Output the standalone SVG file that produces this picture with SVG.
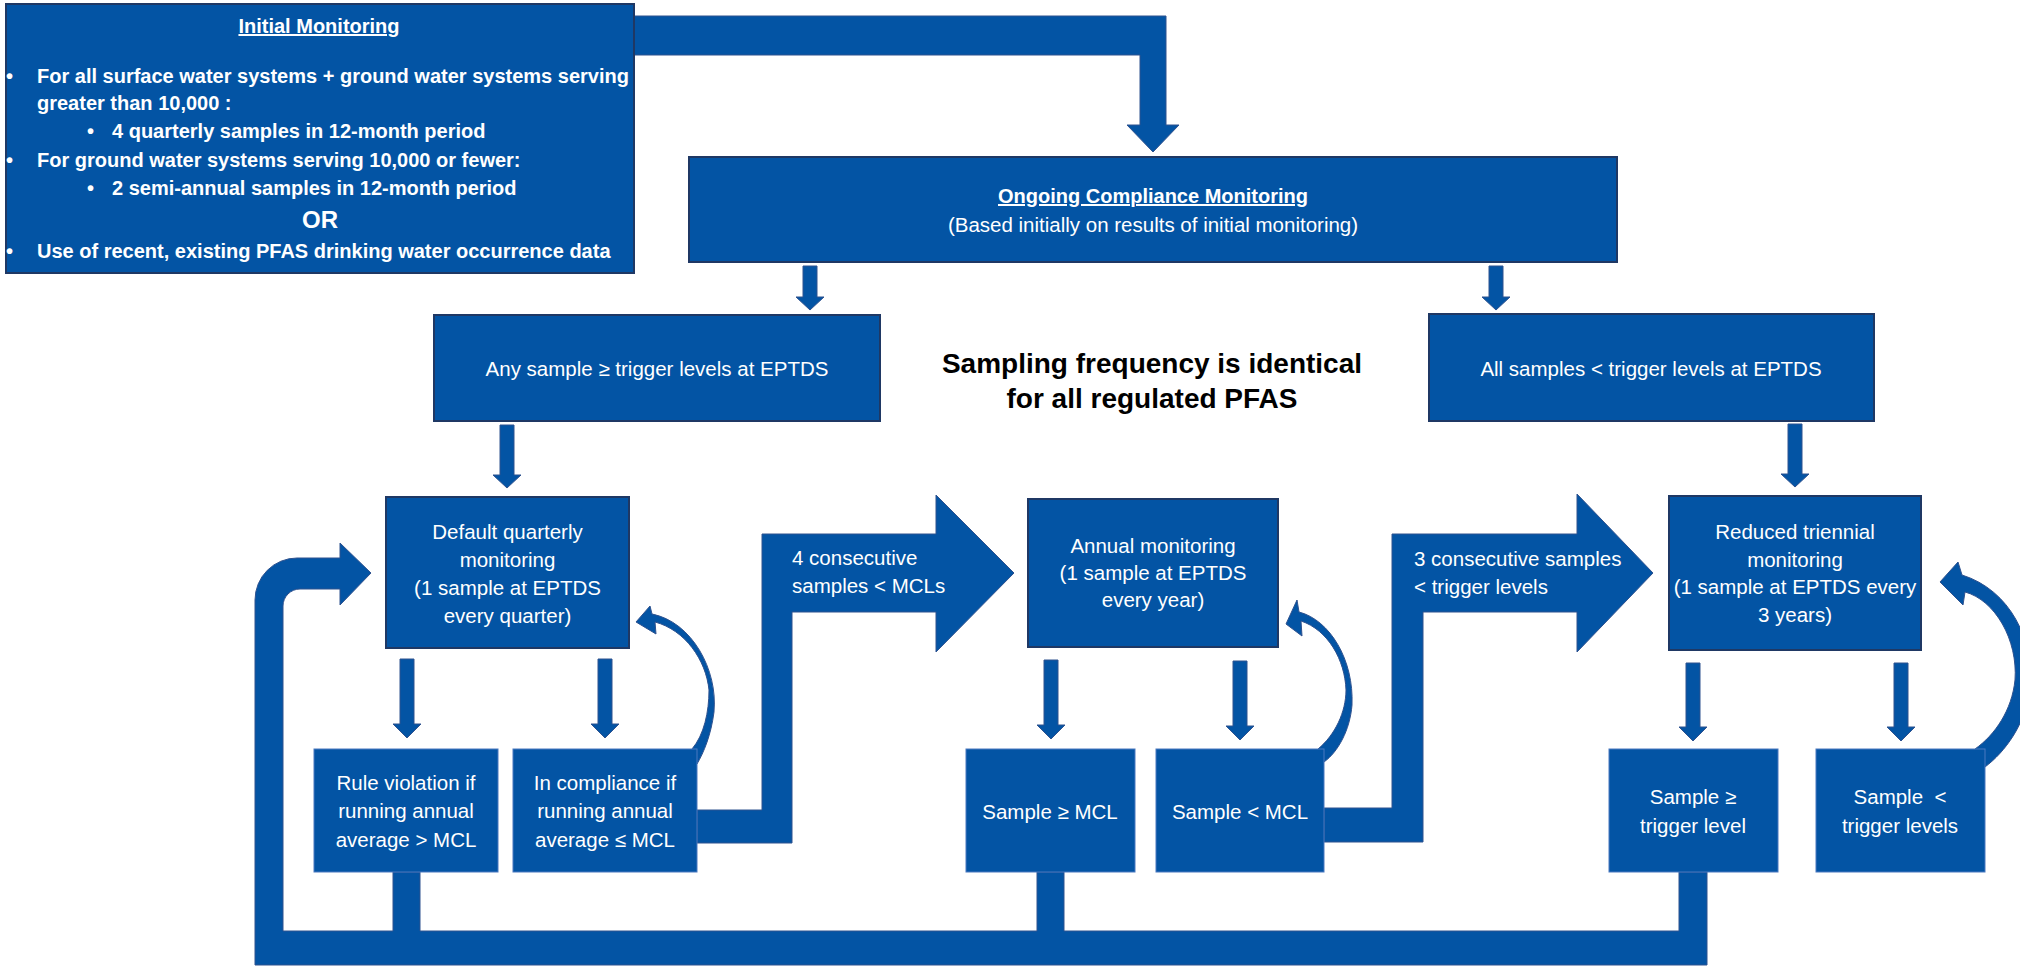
<svg xmlns="http://www.w3.org/2000/svg" width="2020" height="968" viewBox="0 0 2020 968">
<style>
  .box{fill:#0354A4;stroke:#1F3864;stroke-width:2}
  .sbox{fill:#0354A4;stroke:#4A78C0;stroke-width:1}
  .conn{fill:#0354A4;stroke:#2F528F;stroke-width:1}
  .t{font-family:'Liberation Sans',Arial,sans-serif;fill:#fff;font-size:20.5px}
  .c{text-anchor:middle}
  .b{font-weight:bold;font-size:20px}
  .u{text-decoration:underline}
  .title{font-family:'Liberation Sans',Arial,sans-serif;fill:#000;font-weight:bold;font-size:28px;text-anchor:middle}
</style>
<rect width="2020" height="968" fill="#fff"/>
<g id="connectors">
  <path class="conn" d="M634,16 L1166,16 L1166,125 L1179,125 L1153,152 L1127,125 L1140,125 L1140,55 L634,55 Z"/>
  <path class="conn" d="M803,266 L817,266 L817,297 L824,297 L810,310 L796,297 L803,297 Z"/>
  <path class="conn" d="M1489,266 L1503,266 L1503,297 L1510,297 L1496,310 L1482,297 L1489,297 Z"/>
  <path class="conn" d="M500,425 L514,425 L514,475 L521,475 L507,488 L493,475 L500,475 Z"/>
  <path class="conn" d="M1788,424 L1802,424 L1802,474 L1809,474 L1795,487 L1781,474 L1788,474 Z"/>
  <path class="conn" d="M400,659 L414,659 L414,724 L421,724 L407,738 L393,724 L400,724 Z"/>
  <path class="conn" d="M598,659 L612,659 L612,724 L619,724 L605,738 L591,724 L598,724 Z"/>
  <path class="conn" d="M1044,660 L1058,660 L1058,725 L1065,725 L1051,739 L1037,725 L1044,725 Z"/>
  <path class="conn" d="M1233,661 L1247,661 L1247,726 L1254,726 L1240,740 L1226,726 L1233,726 Z"/>
  <path class="conn" d="M1686,663 L1700,663 L1700,727 L1707,727 L1693,741 L1679,727 L1686,727 Z"/>
  <path class="conn" d="M1894,663 L1908,663 L1908,727 L1915,727 L1901,741 L1887,727 L1894,727 Z"/>
  <path class="conn" d="M762,534 L936,534 L936,495 L1014,573 L936,652 L936,612 L792,612 L792,843 L697,843 L697,810 L762,810 Z"/>
  <path class="conn" d="M1392,534 L1577,534 L1577,494 L1653,573 L1577,652 L1577,612 L1423,612 L1423,842 L1324,842 L1324,808 L1392,808 Z"/>
  <path class="conn" d="M255,965 L1707,965 L1707,872 L1679,872 L1679,931 L1064,931 L1064,872 L1037,872 L1037,931 L420,931 L420,872 L393,872 L393,931 L283,931 L283,606 A17,17 0 0 1 300,589 L340,589 L340,605 L371,573 L340,543 L340,558 L297,558 A42,42 0 0 0 255,600 Z"/>
  <path class="conn" d="M650,606 L652,614 C692,622 718,670 714,712 C711,735 704,752 697,764 L692,749 C704,735 709,712 709,690 C706,660 685,630 655,622 L656,634 L636,622 Z"/>
  <path class="conn" d="M1297,600 L1299,612 C1330,620 1354,660 1352,705 C1350,730 1338,752 1324,762 L1318,749 C1335,735 1346,712 1346,690 C1345,660 1328,630 1301,621 L1302,636 L1286,624 Z"/>
  <path class="conn" d="M1958,562 L1962,575 C2010,590 2035,640 2030,690 C2025,725 2005,752 1985,767 L1975,749 C1995,735 2012,710 2015,680 C2018,640 1995,600 1965,592 L1963,605 L1940,582 Z"/>
</g>
<g id="initial">
  <rect class="box" x="6" y="4" width="628" height="269"/>
  <text class="t b c u" x="319" y="33">Initial Monitoring</text>
  <text class="t b" x="6" y="83">•</text>
  <text class="t b" x="37" y="83">For all surface water systems + ground water systems serving</text>
  <text class="t b" x="37" y="110">greater than 10,000 :</text>
  <text class="t b" x="87" y="138">•</text>
  <text class="t b" x="112" y="138">4 quarterly samples in 12-month period</text>
  <text class="t b" x="6" y="167">•</text>
  <text class="t b" x="37" y="167">For ground water systems serving 10,000 or fewer:</text>
  <text class="t b" x="87" y="195">•</text>
  <text class="t b" x="112" y="195">2 semi-annual samples in 12-month period</text>
  <text class="t b c" x="320" y="228" style="font-size:24px">OR</text>
  <text class="t b" x="6" y="258">•</text>
  <text class="t b" x="37" y="258">Use of recent, existing PFAS drinking water occurrence data</text>
</g>
<g id="ongoing">
  <rect class="box" x="689" y="157" width="928" height="105"/>
  <text class="t b c u" x="1153" y="203">Ongoing Compliance Monitoring</text>
  <text class="t c" x="1153" y="232">(Based initially on results of initial monitoring)</text>
</g>
<g id="any-sample">
  <rect class="box" x="434" y="315" width="446" height="106"/>
  <text class="t c" x="657" y="376">Any sample ≥ trigger levels at EPTDS</text>
</g>
<g id="all-samples">
  <rect class="box" x="1429" y="314" width="445" height="107"/>
  <text class="t c" x="1651" y="376">All samples &lt; trigger levels at EPTDS</text>
</g>
<g id="note">
  <text class="title" x="1152" y="373">Sampling frequency is identical</text>
  <text class="title" x="1152" y="408">for all regulated PFAS</text>
</g>
<g id="default-quarterly">
  <rect class="box" x="386" y="497" width="243" height="151"/>
  <text class="t c" x="507.5" y="539">Default quarterly</text>
  <text class="t c" x="507.5" y="567">monitoring</text>
  <text class="t c" x="507.5" y="595">(1 sample at EPTDS</text>
  <text class="t c" x="507.5" y="623">every quarter)</text>
</g>
<g id="annual">
  <rect class="box" x="1028" y="499" width="250" height="148"/>
  <text class="t c" x="1153" y="553">Annual monitoring</text>
  <text class="t c" x="1153" y="580">(1 sample at EPTDS</text>
  <text class="t c" x="1153" y="607">every year)</text>
</g>
<g id="triennial">
  <rect class="box" x="1669" y="496" width="252" height="154"/>
  <text class="t c" x="1795" y="539">Reduced triennial</text>
  <text class="t c" x="1795" y="567">monitoring</text>
  <text class="t c" x="1795" y="594">(1 sample at EPTDS every</text>
  <text class="t c" x="1795" y="622">3 years)</text>
</g>
<g id="label-4-consecutive">
  <text class="t" x="792" y="565">4 consecutive</text>
  <text class="t" x="792" y="593">samples &lt; MCLs</text>
</g>
<g id="label-3-consecutive">
  <text class="t" x="1414" y="566">3 consecutive samples</text>
  <text class="t" x="1414" y="594">&lt; trigger levels</text>
</g>
<g id="rule-violation">
  <rect class="sbox" x="314" y="749" width="184" height="123"/>
  <text class="t c" x="406" y="790">Rule violation if</text>
  <text class="t c" x="406" y="818">running annual</text>
  <text class="t c" x="406" y="847">average &gt; MCL</text>
</g>
<g id="in-compliance">
  <rect class="sbox" x="513" y="749" width="184" height="123"/>
  <text class="t c" x="605" y="790">In compliance if</text>
  <text class="t c" x="605" y="818">running annual</text>
  <text class="t c" x="605" y="847">average ≤ MCL</text>
</g>
<g id="sample-ge-mcl">
  <rect class="sbox" x="966" y="749" width="169" height="123"/>
  <text class="t c" x="1050" y="819">Sample ≥ MCL</text>
</g>
<g id="sample-lt-mcl">
  <rect class="sbox" x="1156" y="749" width="168" height="123"/>
  <text class="t c" x="1240" y="819">Sample &lt; MCL</text>
</g>
<g id="sample-ge-trigger">
  <rect class="sbox" x="1609" y="749" width="169" height="123"/>
  <text class="t c" x="1693" y="804">Sample ≥</text>
  <text class="t c" x="1693" y="833">trigger level</text>
</g>
<g id="sample-lt-trigger">
  <rect class="sbox" x="1816" y="749" width="169" height="123"/>
  <text class="t c" x="1900" y="804" xml:space="preserve">Sample  &lt;</text>
  <text class="t c" x="1900" y="833">trigger levels</text>
</g>
</svg>
